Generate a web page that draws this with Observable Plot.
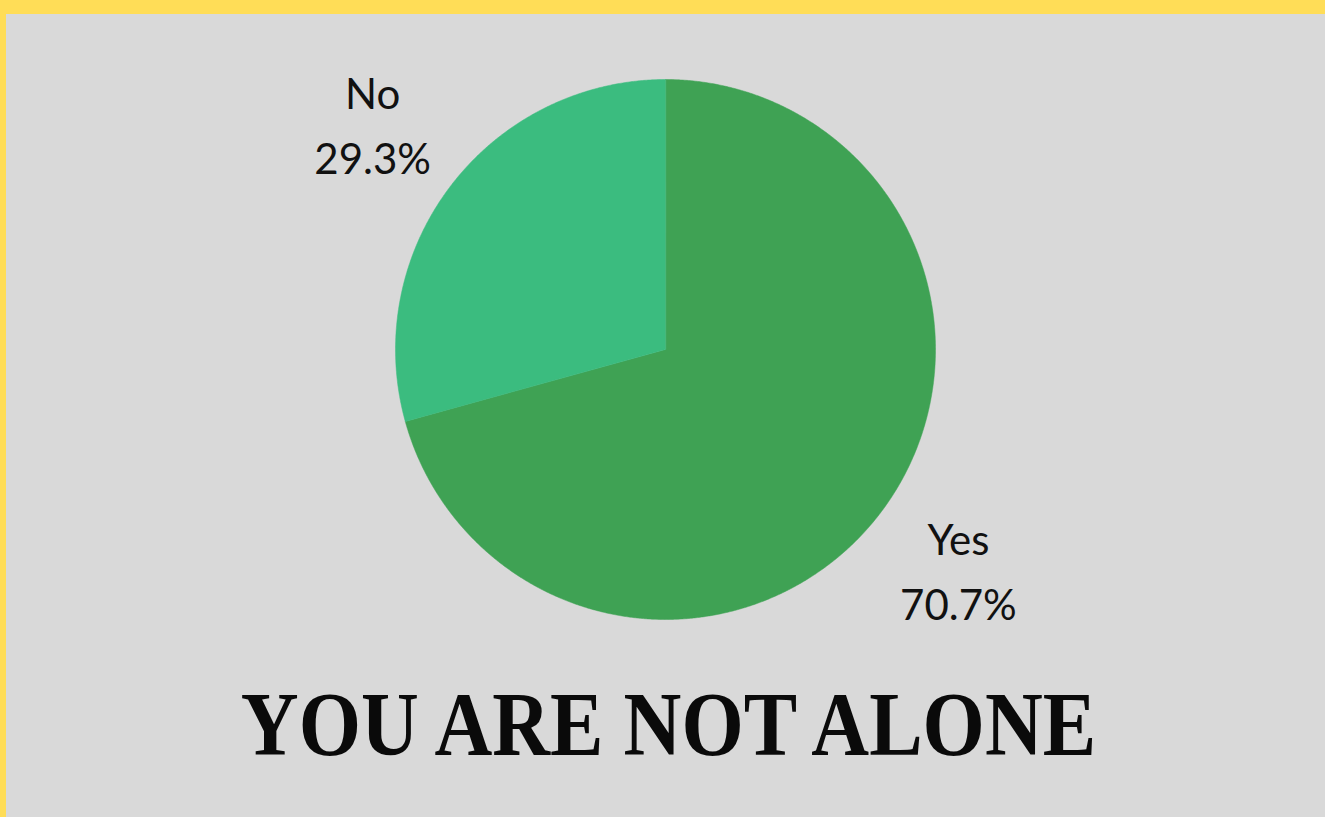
<!DOCTYPE html>
<html>
<head>
<meta charset="utf-8">
<script src="https://cdn.jsdelivr.net/npm/d3@7"></script>
<script src="https://cdn.jsdelivr.net/npm/@observablehq/plot@0.6"></script>
<style>
  html, body { margin: 0; padding: 0; width: 1325px; height: 817px; overflow: hidden; background: #ffdd57; }
  #panel { position: absolute; left: 6px; top: 14px; width: 1319px; height: 803px; background: #d9d9d9; }
  #chart { position: absolute; left: 0; top: 0; }
  #title { position: absolute; left: 6px; top: 680px; width: 1325px; text-align: center;
           font-family: "Liberation Serif", serif; font-weight: bold; font-size: 90px; line-height: 90px;
           color: #0a0a0a; transform: scaleX(0.89); transform-origin: 662.5px 0; white-space: nowrap; }
</style>
</head>
<body>
<div id="panel"></div>
<div id="chart"></div>
<div id="title">YOU ARE NOT ALONE</div>
<script>
const categories = ["Yes", "No"];
const values = [70.7, 29.3];
const colors = ["#3fa254", "#3bbc7f"];
const labelTexts = ["Yes\n70.7%", "No\n29.3%"];

const pie = d3.pie().sort(null).value(d => d.value)(categories.map((c, i) => ({category: c, value: values[i]})));

// Build polygon outlines of the slices in unit-circle data space
const slicePoints = [];
pie.forEach(p => {
  const n = Math.max(2, Math.ceil((p.endAngle - p.startAngle) / 0.005));
  slicePoints.push({category: p.data.category, x: 0, y: 0});
  for (let k = 0; k <= n; k++) {
    const a = p.startAngle + (p.endAngle - p.startAngle) * k / n;
    slicePoints.push({category: p.data.category, x: Math.sin(a), y: Math.cos(a)});
  }
});

const labelR = 1.363;
const labels = pie.map((p, i) => {
  const a = (p.startAngle + p.endAngle) / 2;
  return {text: labelTexts[i], x: labelR * Math.sin(a), y: labelR * Math.cos(a)};
});

const chart = Plot.plot({
  width: 1325,
  height: 660,
  style: {background: "transparent", overflow: "visible"},
  x: {domain: [-1, 1], range: [395, 935], axis: null},
  y: {domain: [-1, 1], range: [619, 79], axis: null},
  color: {domain: categories, range: colors},
  marks: [
    Plot.line(slicePoints, {x: "x", y: "y", z: "category", fill: "category", stroke: "category", strokeWidth: 0.5, curve: "linear-closed"}),
    Plot.text(labels, {x: "x", y: "y", text: "text", fontSize: 42, lineHeight: 1.55, dy: -6, fill: "#111",
      fontFamily: "Lato, 'Open Sans', sans-serif", textAnchor: "middle"})
  ]
});
document.getElementById("chart").appendChild(chart);
</script>
</body>
</html>
